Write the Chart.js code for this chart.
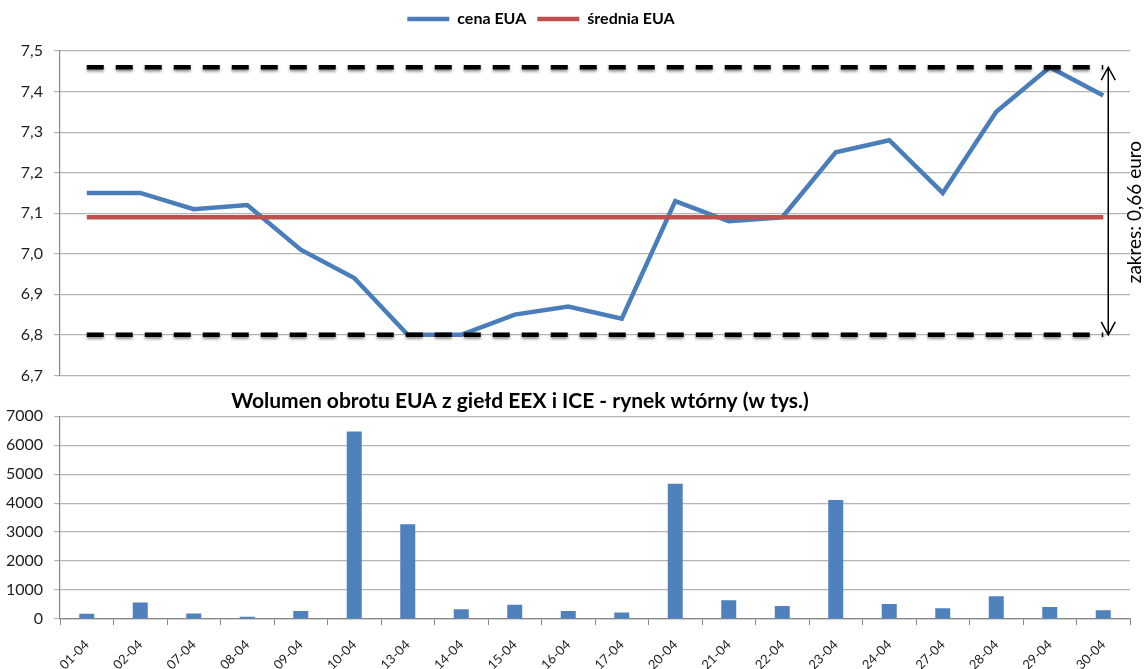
<!DOCTYPE html>
<html>
<head>
<meta charset="utf-8">
<script src="https://cdn.jsdelivr.net/npm/chart.js@4"></script>
<style>
  body { margin: 0; background: #fff; }
  #wrap { position: relative; width: 1147px; height: 669px; overflow: hidden; background: #fff; }
  canvas { position: absolute; }
  #cenaChart { left: -65px; top: 0; }
  #wolumenChart { left: -107px; top: 380px; }
</style>
</head>
<body>
<div id="wrap">
  <canvas id="cenaChart" width="1212" height="396"></canvas>
  <canvas id="wolumenChart" width="1254" height="289"></canvas>
</div>
<script>
const dates = ['01-04','02-04','07-04','08-04','09-04','10-04','13-04','14-04','15-04','16-04',
               '17-04','20-04','21-04','22-04','23-04','24-04','27-04','28-04','29-04','30-04'];
const cenaEUA = [7.15, 7.15, 7.11, 7.12, 7.01, 6.94, 6.80, 6.80, 6.85, 6.87,
                 6.84, 7.13, 7.08, 7.09, 7.25, 7.28, 7.15, 7.35, 7.46, 7.39];
const sredniaEUA = 7.09;
const wolumen = [185, 570, 190, 80, 275, 6470, 3270, 340, 490, 275,
                 225, 4670, 650, 450, 4110, 520, 375, 785, 410, 305];
const cenaTicks = [6.7, 7.5, 0.1];      // min, max, step
const wolumenTicks = [0, 7000, 1000];

const maxCena = Math.max(...cenaEUA);
const minCena = Math.min(...cenaEUA);

const FONT = 'Lato';
const gridColor = '#b4b4b4';
const axisColor = '#868686';
const textColor = '#1e1e1e';

// shadow under the dashed range lines
const shadowPlugin = {
  id: 'shadow',
  beforeDatasetDraw(chart, args) {
    if (args.index < 2) return;
    const ctx = chart.ctx;
    ctx.save();
    ctx.shadowColor = 'rgba(0,0,0,0.45)';
    ctx.shadowBlur = 3;
    ctx.shadowOffsetY = 2;
  },
  afterDatasetDraw(chart, args) {
    if (args.index < 2) return;
    chart.ctx.restore();
  }
};

// double arrow + "zakres" label
const zakresPlugin = {
  id: 'zakres',
  afterDatasetsDraw(chart) {
    const ctx = chart.ctx;
    const x = chart.scales.x, y = chart.scales.y;
    const ax = x.getPixelForValue(dates.length - 1) + 5;
    const yTop = y.getPixelForValue(maxCena);
    const yBot = y.getPixelForValue(minCena);
    ctx.save();
    ctx.strokeStyle = '#000';
    ctx.lineWidth = 1.5;
    ctx.beginPath();
    ctx.moveTo(ax, yTop); ctx.lineTo(ax, yBot);
    ctx.moveTo(ax - 7, yTop + 13); ctx.lineTo(ax, yTop); ctx.lineTo(ax + 7, yTop + 13);
    ctx.moveTo(ax - 7, yBot - 13); ctx.lineTo(ax, yBot); ctx.lineTo(ax + 7, yBot - 13);
    ctx.stroke();
    const txt = 'zakres: ' + (maxCena - minCena).toFixed(2).replace('.', ',') + ' euro';
    ctx.translate(ax + 27, (yTop + yBot) / 2 + 11);
    ctx.rotate(-Math.PI / 2);
    ctx.fillStyle = '#000';
    ctx.font = '19px ' + FONT;
    ctx.textAlign = 'center';
    ctx.textBaseline = 'middle';
    ctx.fillText(txt, 0, 0);
    ctx.restore();
  }
};

new Chart(document.getElementById('cenaChart'), {
  type: 'line',
  data: {
    labels: dates,
    datasets: [
      { label: 'cena EUA', data: cenaEUA, borderColor: '#4a7ebb', borderWidth: 4.5, pointRadius: 0, order: 2 },
      { label: 'średnia EUA', data: dates.map(() => sredniaEUA), borderColor: '#c0504d', borderWidth: 4.5, pointRadius: 0, order: 1 },
      { label: 'max', data: dates.map(() => maxCena), borderColor: '#000', borderWidth: 4.5, borderDash: [17, 12], pointRadius: 0, order: 0 },
      { label: 'min', data: dates.map(() => minCena), borderColor: '#000', borderWidth: 4.5, borderDash: [17, 12], pointRadius: 0, order: 0 }
    ]
  },
  options: {
    responsive: false,
    animation: false,
    layout: { padding: 0 },
    plugins: {
      legend: {
        labels: {
          filter: item => item.datasetIndex < 2,
          sort: (a, b) => a.datasetIndex - b.datasetIndex,
          usePointStyle: true,
          pointStyle: 'line',
          pointStyleWidth: 42,
          padding: 11,
          color: '#000',
          font: { family: FONT, size: 16, weight: 'bold' }
        }
      },
      tooltip: { enabled: false }
    },
    scales: {
      x: {
        position: 'top',
        offset: true,
        ticks: { display: false },
        grid: { display: false },
        border: { display: false },
        afterFit: s => { s.height = 14; }
      },
      y: {
        min: cenaTicks[0], max: cenaTicks[1],
        ticks: {
          stepSize: cenaTicks[2],
          padding: 11,
          color: textColor,
          font: { family: FONT, size: 16 },
          callback: v => v.toFixed(1).replace('.', ',')
        },
        grid: { color: gridColor, tickLength: 6, lineWidth: 1.2 },
        border: { color: axisColor, width: 1.2 },
        afterFit: s => { s.width = 125; }
      },
      yr: {
        position: 'right',
        ticks: { display: false },
        grid: { display: false },
        border: { display: false },
        afterFit: s => { s.width = 17; }
      }
    }
  },
  plugins: [shadowPlugin, zakresPlugin]
});

new Chart(document.getElementById('wolumenChart'), {
  type: 'bar',
  data: {
    labels: dates,
    datasets: [{
      label: 'wolumen',
      data: wolumen,
      backgroundColor: '#4f81bd',
      categoryPercentage: 0.56,
      barPercentage: 0.5
    }]
  },
  options: {
    responsive: false,
    animation: false,
    layout: { padding: 0 },
    plugins: {
      legend: { display: false },
      tooltip: { enabled: false },
      title: {
        display: true,
        text: 'Wolumen obrotu EUA z giełd EEX i ICE - rynek wtórny (w tys.)',
        color: '#000',
        font: { family: FONT, size: 21, weight: 'bold' },
        padding: { top: 9, bottom: 2 }
      }
    },
    scales: {
      x: {
        ticks: {
          autoSkip: false,
          minRotation: 45, maxRotation: 45,
          padding: 12,
          color: textColor,
          font: { family: FONT, size: 13 }
        },
        grid: { drawOnChartArea: false, color: axisColor, tickLength: 6 },
        border: { color: axisColor, width: 1.2 },
        afterFit: s => { s.height = 50; }
      },
      y: {
        min: wolumenTicks[0], max: wolumenTicks[1],
        ticks: {
          stepSize: wolumenTicks[2],
          padding: 11,
          color: textColor,
          font: { family: FONT, size: 16 },
          callback: v => String(v)
        },
        grid: { color: gridColor, tickLength: 6, lineWidth: 1.2 },
        border: { color: axisColor, width: 1.2 },
        afterFit: s => { s.width = 167; }
      },
      yr: {
        position: 'right',
        ticks: { display: false },
        grid: { display: false },
        border: { display: false },
        afterFit: s => { s.width = 17; }
      }
    }
  }
});
</script>
</body>
</html>
